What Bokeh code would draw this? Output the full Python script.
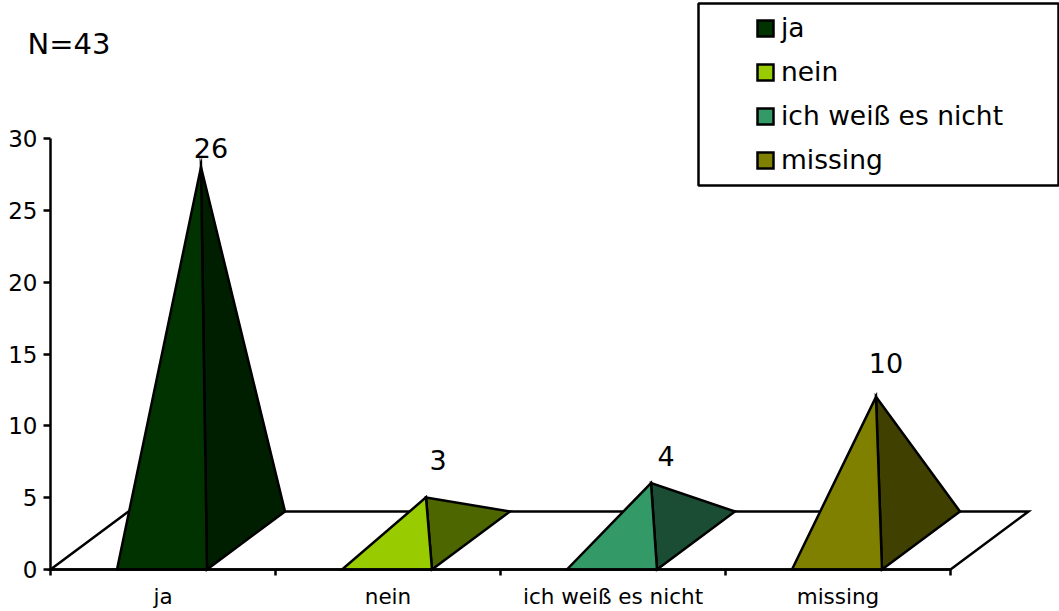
from bokeh.embed import file_html
from bokeh.models import BoxAnnotation, ColumnDataSource, FixedTicker, Label, Legend, LegendItem, Range1d
from bokeh.plotting import figure
from bokeh.core.properties import value
from bokeh.resources import INLINE

categories = ["ja", "nein", "ich weiß es nicht", "missing"]
counts = [26, 3, 4, 10]
front_colors = ["#003300", "#99CC00", "#339966", "#808000"]
side_colors = ["#001F00", "#4D6600", "#1A4D33", "#404000"]
y_ticks = [0, 5, 10, 15, 20, 25, 30]
label_shift_x = [9, 11, 14, 9]
label_lift = [19, 37, 27, 34]

FONT = "DejaVu Sans"
WIDTH, HEIGHT = 1059, 611
LEFT, BOTTOM = 50, 42
PX_PER_CATEGORY = 225
PX_PER_UNIT = 431 / 30
LINE_W = 2.5

# Oblique floor depth and pyramid footprint, in data units
DEPTH_X = 78 / PX_PER_CATEGORY
DEPTH_Y = 58 / PX_PER_UNIT
BASE = 0.4
NUDGE = 1 / PX_PER_CATEGORY

# The frame fills the whole canvas and both axes are pinned inside it,
# so the note and the tick labels outside the plot area are not clipped
p = figure(
    width=WIDTH,
    height=HEIGHT,
    output_backend="svg",
    toolbar_location=None,
    min_border=0,
    x_range=Range1d(-LEFT / PX_PER_CATEGORY, (WIDTH - LEFT) / PX_PER_CATEGORY),
    y_range=Range1d(-BOTTOM / PX_PER_UNIT, (HEIGHT - BOTTOM) / PX_PER_UNIT),
    background_fill_color="white",
    border_fill_color="white",
)
p.outline_line_color = None
p.grid.visible = False

n = len(categories)

# Floor of the 3D chart
p.patch(
    [0, n, n + DEPTH_X, DEPTH_X],
    [0, 0, DEPTH_Y, DEPTH_Y],
    fill_color="white",
    line_color="black",
    line_width=LINE_W,
    line_join="miter",
)

# One pyramid per category: a lit front face and a shaded side face
legend_items = []
for i, (name, count) in enumerate(zip(categories, counts)):
    centre = i + 0.5 - NUDGE
    x0, x1 = centre - BASE / 2, centre + BASE / 2
    apex_x = centre + DEPTH_X / 2
    apex_y = count + DEPTH_Y / 2
    p.patch(
        [x1, x1 + DEPTH_X, apex_x],
        [0, DEPTH_Y, apex_y],
        fill_color=side_colors[i],
        line_color="black",
        line_width=LINE_W,
        line_join="miter",
    )
    front = p.patch(
        [x0, x1, apex_x],
        [0, 0, apex_y],
        fill_color=front_colors[i],
        line_color="black",
        line_width=LINE_W,
        line_join="miter",
    )
    legend_items.append(LegendItem(label=name, renderers=[front]))

# Value labels above each apex
labels = ColumnDataSource(
    dict(
        x=[i + 0.5 + DEPTH_X / 2 for i in range(n)],
        y=[c + DEPTH_Y / 2 for c in counts],
        text=[str(c) for c in counts],
        dx=label_shift_x,
        dy=[-v for v in label_lift],
    )
)
p.text(
    "x",
    "y",
    text="text",
    source=labels,
    x_offset="dx",
    y_offset="dy",
    text_align="center",
    text_baseline="middle",
    text_font=value(FONT),
    text_font_size="27px",
    text_color="black",
)

# Value axis, pinned at x=0
p.yaxis.fixed_location = 0
p.yaxis.ticker = FixedTicker(ticks=y_ticks)
p.yaxis.bounds = (0, 30)
p.yaxis.axis_line_width = LINE_W
p.yaxis.major_tick_line_width = LINE_W
p.yaxis.major_tick_out = 7
p.yaxis.major_tick_in = 0
p.yaxis.minor_tick_line_color = None
p.yaxis.major_label_standoff = 6
p.yaxis.major_label_text_font = FONT
p.yaxis.major_label_text_font_size = "23px"
p.yaxis.major_label_text_color = "black"

# Category axis, pinned at y=0: labels sit at mid-slot, tick marks at the slot edges
p.xaxis.fixed_location = 0
p.xaxis.ticker = FixedTicker(ticks=[i + 0.5 for i in range(n)], minor_ticks=list(range(n + 1)))
p.xaxis.bounds = (0, n)
p.xaxis.major_label_overrides = {i + 0.5: name for i, name in enumerate(categories)}
p.xaxis.axis_line_width = LINE_W
p.xaxis.major_tick_line_color = None
p.xaxis.major_tick_out = 0
p.xaxis.major_tick_in = 0
p.xaxis.minor_tick_line_color = "black"
p.xaxis.minor_tick_line_width = LINE_W
p.xaxis.minor_tick_out = 6
p.xaxis.minor_tick_in = 0
p.xaxis.major_label_standoff = 8
p.xaxis.major_label_text_font = FONT
p.xaxis.major_label_text_font_size = "21.5px"
p.xaxis.major_label_text_color = "black"

# Legend with its frame; screen units here count from the frame's lower left corner
p.add_layout(
    BoxAnnotation(
        left=698,
        right=1058,
        top=HEIGHT - 3,
        bottom=HEIGHT - 185,
        left_units="screen",
        right_units="screen",
        top_units="screen",
        bottom_units="screen",
        fill_color="white",
        fill_alpha=1,
        line_color="black",
        line_width=LINE_W,
        line_alpha=1,
        level="annotation",
    )
)
legend = Legend(
    items=legend_items,
    location=(755, 436),
    orientation="vertical",
    padding=0,
    margin=0,
    spacing=13,
    glyph_width=20,
    glyph_height=20,
    label_standoff=6,
    label_text_font=FONT,
    label_text_font_size="26.5px",
    label_text_color="black",
    border_line_color=None,
    background_fill_alpha=0,
)
p.add_layout(legend, "center")

p.add_layout(
    Label(
        x=27,
        y=HEIGHT - 60,
        x_units="screen",
        y_units="screen",
        text="N=43",
        text_font=FONT,
        text_font_size="29px",
        text_color="black",
    )
)

open("out.html", "w").write(file_html(p, INLINE))
